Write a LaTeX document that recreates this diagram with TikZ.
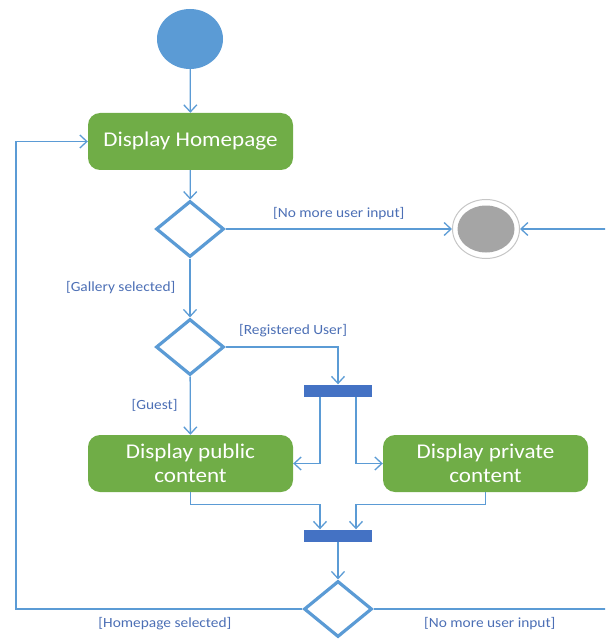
\documentclass[tikz,border=0pt]{standalone}
\usepackage{fontspec}
\setmainfont[FakeStretch=1.1]{Carlito}
\usetikzlibrary{arrows.meta,shapes.geometric}

\definecolor{flow}{HTML}{5B9BD5}
\definecolor{act}{HTML}{70AD47}
\definecolor{barblue}{HTML}{4472C4}
\definecolor{guardtxt}{HTML}{4C6FB5}
\definecolor{endgrey}{HTML}{A5A5A5}

\begin{document}
\begin{tikzpicture}[x=1pt,y=-1pt,
  flowline/.style={draw=flow, line width=1.3pt,
    -{Straight Barb[length=7pt,width=13pt,line width=1.3pt]}},
  plainline/.style={draw=flow, line width=1.3pt},
  action/.style={fill=act, rounded corners=12pt, minimum width=205pt,
    minimum height=57pt, text=white, align=center, inner sep=0pt,
    font=\fontsize{21}{24}\selectfont},
  decision/.style={diamond, draw=flow, line width=3.2pt, fill=white,
    minimum width=68pt, minimum height=56pt, inner sep=0pt},
  syncbar/.style={rectangle, fill=barblue, minimum width=68pt,
    minimum height=12pt, inner sep=0pt},
  guardlbl/.style={text=guardtxt, font=\fontsize{14}{15}\selectfont, inner sep=0pt}
]
\useasboundingbox (0,0) rectangle (605,639);
\clip (0,0) rectangle (605,639);

% initial and final states
\node[ellipse, fill=flow, minimum width=66pt, minimum height=60pt, inner sep=0pt] (start) at (190,39) {};
\node[ellipse, draw=gray!45, line width=1pt, fill=white, minimum width=67pt, minimum height=59pt, inner sep=0pt] (final) at (486,229) {};
\fill[endgrey] (final.center) ellipse [x radius=28.5pt, y radius=23.5pt];

% activities
\node[action] (home) at (190.5,141.5) {Display Homepage};
\node[action] (pub) at (190.5,463.5) {Display public\\content};
\node[action] (priv) at (485.5,463.5) {Display private\\content};

% decisions
\node[decision] (d1) at (190,229) {};
\node[decision] (d2) at (190,347) {};
\node[decision] (d3) at (338,609) {};

% fork and join bars
\node[syncbar] (fork) at (338,390.5) {};
\node[syncbar] (join) at (338,535.5) {};

% off-page continuation points
\coordinate (edgeA) at (606,229);
\coordinate (edgeB) at (606,609);
\coordinate (loop) at (16,609);

% flows
\draw[flowline] (start) -- (home);
\draw[flowline] (home) -- (d1);
\draw[flowline] (d1) -- node[guardlbl, above=9pt] {[No more user input]} (final);
\draw[flowline] (edgeA) -- (final);
\draw[flowline] (d1) -- node[guardlbl, left=14pt] {[Gallery selected]} (d2);
\draw[flowline] (d2.east) -| node[guardlbl, pos=0.3, above=9pt] {[Registered User]} (fork.north);
\draw[flowline] (d2) -- node[guardlbl, left=12pt] {[Guest]} (pub);
\draw[flowline] ([xshift=-18pt]fork.south) |- (pub.east);
\draw[flowline] ([xshift=18pt]fork.south) |- (priv.west);
\draw[flowline] (pub.south) -- ++(0,12) -| ([xshift=-18pt]join.north);
\draw[flowline] (priv.south) -- ++(0,12) -| ([xshift=18pt]join.north);
\draw[flowline] (join) -- (d3);
\draw[flowline] (d3.west) -- node[guardlbl, pos=0.48, below=8pt] {[Homepage selected]} (loop) |- (home.west);
\draw[plainline] (d3.east) -- node[guardlbl, below=8pt] {[No more user input]} (edgeB);
\end{tikzpicture}
\end{document}
